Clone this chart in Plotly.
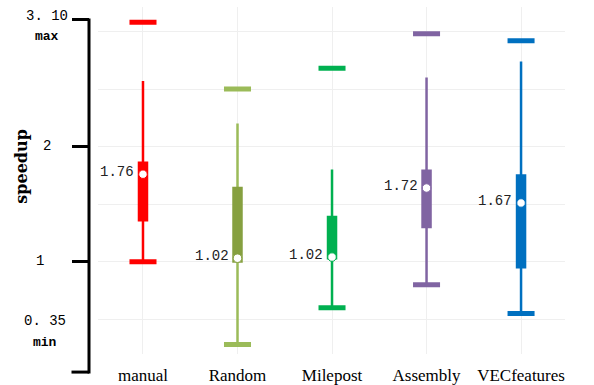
import plotly.graph_objects as go

# ---- data ----
categories = ["manual", "Random", "Milepost", "Assembly", "VECfeatures"]
max_vals = [3.08, 2.50, 2.68, 2.98, 2.92]
upper_whisker = [2.57, 2.20, 1.80, 2.60, 2.74]
q3 = [1.87, 1.65, 1.40, 1.80, 1.76]
medians = [1.76, 1.03, 1.04, 1.64, 1.51]
q1 = [1.35, 0.99, 1.02, 1.29, 0.94]
lower = [1.00, 0.28, 0.60, 0.80, 0.55]
median_labels = ["1.76", "1.02", "1.02", "1.72", "1.67"]

whisker_colors = ["#ff0000", "#9bbb59", "#00b050", "#8064a2", "#0070c0"]
box_colors = ["#ff0000", "#86a040", "#00b050", "#8064a2", "#0070c0"]

y_tickvals = [1, 2, 3.1]
y_ticktext = ["1", "2", "3. 10"]
grid_vals = [0.5, 1.0, 1.5, 2.0, 2.5, 3.0]

W, H = 594, 385
Y_RANGE = [0.196, 3.213]
Y_DOM_PX = (7, 357)      # top, bottom pixel of plot area
X_DOM_PX = (98, 565)


def px_x(p):
    return p / W


def px_y(p):
    return 1 - p / H


def val_to_py(v):
    top, bot = Y_DOM_PX
    return bot - (v - Y_RANGE[0]) / (Y_RANGE[1] - Y_RANGE[0]) * (bot - top)


fig = go.Figure()

for i, c in enumerate(categories):
    wc, bc = whisker_colors[i], box_colors[i]
    # whisker
    fig.add_trace(go.Scatter(x=[c, c], y=[lower[i], upper_whisker[i]], mode="lines",
                             line=dict(color=wc, width=2.5), hoverinfo="skip"))
    # box
    fig.add_trace(go.Scatter(x=[c, c], y=[q1[i], q3[i]], mode="lines",
                             line=dict(color=bc, width=10.5), hoverinfo="skip"))
    # caps (max and lower)
    fig.add_trace(go.Scatter(x=[c, c], y=[max_vals[i], lower[i]], mode="markers",
                             marker=dict(symbol="line-ew-open", size=19.3, color=wc,
                                         line=dict(width=5, color=wc)),
                             hoverinfo="skip"))
    # median dot
    fig.add_trace(go.Scatter(x=[c], y=[medians[i]], mode="markers",
                             marker=dict(symbol="circle", size=8.5, color="white",
                                         line=dict(width=1, color=bc)),
                             hoverinfo="skip"))
    fig.add_annotation(x=c, y=medians[i], xref="x", yref="y", text=median_labels[i],
                       showarrow=False, xanchor="right", yanchor="middle",
                       xshift=-7, yshift=2,
                       font=dict(family="Liberation Mono", size=14, color="#222222"))

# axis labels (left side)
label_font = dict(family="Liberation Mono", size=14, color="black")
small_font = dict(family="Liberation Mono", size=13, color="black")
for txt, xp, yp, f in [("3. 10", 47, 16.5, label_font), ("<b>max</b>", 46.5, 37, small_font),
                       ("2", 47, 147, label_font), ("1", 40, 263, label_font),
                       ("0. 35", 44.5, 324, label_font), ("<b>min</b>", 45, 345, small_font)]:
    fig.add_annotation(x=px_x(xp), y=px_y(yp), xref="paper", yref="paper", text=txt,
                       showarrow=False, xanchor="center", yanchor="middle", font=f)

fig.add_annotation(x=px_x(22), y=px_y(168), xref="paper", yref="paper",
                   text="<b>speedup</b>", textangle=-90, showarrow=False,
                   xanchor="center", yanchor="middle",
                   font=dict(family="DejaVu Serif", size=16, color="black"))

# axis line and bottom tick
AX_X = 89
top_px = val_to_py(y_tickvals[-1]) - 1.5
fig.add_shape(type="line", xref="paper", yref="paper",
              x0=px_x(AX_X), x1=px_x(AX_X), y0=px_y(376.5), y1=px_y(top_px),
              line=dict(color="black", width=3))
fig.add_shape(type="line", xref="paper", yref="paper",
              x0=px_x(71.5), x1=px_x(AX_X), y0=px_y(375), y1=px_y(375),
              line=dict(color="black", width=3))

fig.update_layout(
    width=W, height=H,
    margin=dict(l=0, r=0, t=0, b=0),
    paper_bgcolor="white", plot_bgcolor="white",
    showlegend=False,
    xaxis=dict(domain=[px_x(X_DOM_PX[0]), px_x(X_DOM_PX[1])],
               type="category", range=[-0.476, 4.465],
               showgrid=True, gridcolor="#efefef", gridwidth=1,
               zeroline=False, showline=False,
               ticks="outside", ticklen=5, tickcolor="rgba(0,0,0,0)",
               tickfont=dict(family="Liberation Serif", size=17, color="black")),
    yaxis=dict(domain=[px_y(Y_DOM_PX[1]), px_y(Y_DOM_PX[0])],
               range=Y_RANGE, anchor="free", position=px_x(AX_X),
               tickmode="array", tickvals=y_tickvals, ticktext=y_ticktext,
               showticklabels=False,
               ticks="outside", ticklen=17, tickwidth=3, tickcolor="black",
               showgrid=False, zeroline=False, showline=False,
               minor=dict(tickvals=grid_vals, showgrid=True, gridcolor="#efefef",
                          gridwidth=1, ticks="")),
)

fig.write_html("out.html",
               config={"displayModeBar": False},
               post_script="document.body.style.margin='0';document.body.style.overflow='hidden';")
